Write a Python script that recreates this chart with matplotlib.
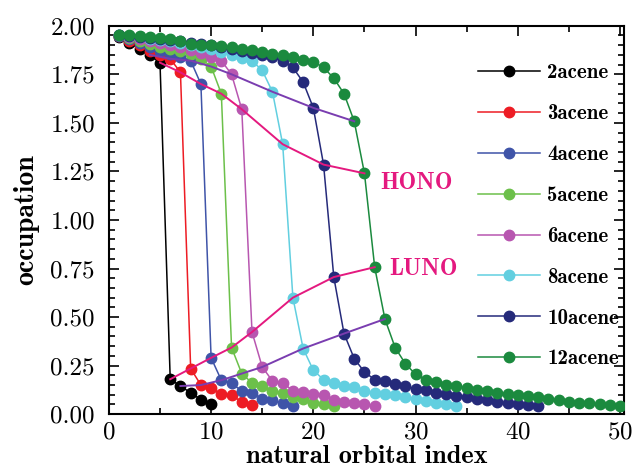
import matplotlib
matplotlib.use("Agg")
import matplotlib.pyplot as plt
from matplotlib.ticker import MultipleLocator, FormatStrFormatter

# number of rings for each acene
acenes = [2, 3, 4, 5, 6, 8, 10, 12]
labels = ["2acene", "3acene", "4acene", "5acene", "6acene", "8acene", "10acene", "12acene"]
colors = ["#000000", "#ed1c24", "#3f54a8", "#6cc04a", "#b856b0", "#62cfe0", "#252a7a", "#1b8a3e"]

# natural orbital occupations, index 1 .. 4n+2
occ_2 = [1.94, 1.91, 1.88, 1.85, 1.81, 0.18, 0.145, 0.11, 0.075, 0.05]
occ_3 = [1.945, 1.92, 1.90, 1.87, 1.85, 1.83, 1.76, 0.235, 0.15, 0.135, 0.103, 0.098,
         0.063, 0.046]
occ_4 = [1.945, 1.93, 1.91, 1.89, 1.87, 1.855, 1.84, 1.82, 1.70, 0.29, 0.175, 0.158,
         0.12, 0.11, 0.08, 0.072, 0.055, 0.043]
occ_5 = [1.95, 1.935, 1.92, 1.905, 1.89, 1.88, 1.87, 1.855, 1.83, 1.79, 1.65, 0.343,
         0.209, 0.161, 0.146, 0.12, 0.11, 0.089, 0.08, 0.058, 0.05, 0.043]
occ_6 = [1.95, 1.94, 1.93, 1.92, 1.91, 1.90, 1.89, 1.875, 1.86, 1.84, 1.82, 1.75,
         1.57, 0.423, 0.243, 0.171, 0.163, 0.12, 0.115, 0.106, 0.098, 0.072, 0.063,
         0.058, 0.05, 0.043]
occ_8 = [1.95, 1.945, 1.94, 1.93, 1.925, 1.92, 1.91, 1.90, 1.89, 1.88, 1.865, 1.85,
         1.835, 1.82, 1.77, 1.66, 1.39, 0.60, 0.338, 0.226, 0.178, 0.158, 0.146, 0.14,
         0.12, 0.11, 0.105, 0.098, 0.09, 0.08, 0.07, 0.06, 0.05, 0.043]
occ_10 = [1.95, 1.945, 1.94, 1.935, 1.93, 1.925, 1.92, 1.91, 1.905, 1.90, 1.89, 1.88,
          1.87, 1.86, 1.85, 1.84, 1.82, 1.785, 1.71, 1.577, 1.285, 0.706, 0.415, 0.286,
          0.217, 0.178, 0.17, 0.154, 0.144, 0.132, 0.123, 0.11, 0.106, 0.093, 0.089,
          0.08, 0.072, 0.063, 0.055, 0.051, 0.046, 0.041]
occ_12 = [1.95, 1.95, 1.945, 1.94, 1.937, 1.93, 1.92, 1.905, 1.90, 1.90, 1.895, 1.89,
          1.88, 1.875, 1.863, 1.855, 1.85, 1.84, 1.825, 1.815, 1.785, 1.73, 1.65, 1.508,
          1.24, 0.757, 0.49, 0.343, 0.26, 0.205, 0.178, 0.166, 0.149, 0.144, 0.135,
          0.125, 0.12, 0.11, 0.105, 0.10, 0.095, 0.09, 0.08, 0.072, 0.063, 0.058, 0.055,
          0.05, 0.046, 0.041]
occupations = [occ_2, occ_3, occ_4, occ_5, occ_6, occ_8, occ_10, occ_12]

HONO_COLOR = "#e4197f"
NEAR_COLOR = "#7a3db0"

plt.rcParams["axes.unicode_minus"] = False
plt.rcParams["axes.formatter.use_mathtext"] = True

fig = plt.figure(figsize=(6.33, 4.68), dpi=100)
ax = fig.add_axes([0.172, 0.115, 0.814, 0.830])

for n, occ, lab, col in zip(acenes, occupations, labels, colors):
    idx = list(range(1, len(occ) + 1))
    ax.plot(idx, occ, "-o", color=col, lw=1.1, ms=7.5, mec=col, label=lab, zorder=3)

# lines through HONO-1, HONO, LUNO, LUNO+1 of every acene (orbital 2n, 2n+1, 2n+2, 2n+3)
for shift, col in [(0, NEAR_COLOR), (1, HONO_COLOR), (2, HONO_COLOR), (3, NEAR_COLOR)]:
    xs = [2 * n + shift for n in acenes]
    ys = [occ[2 * n + shift - 1] for n, occ in zip(acenes, occupations)]
    ax.plot(xs, ys, "-", color=col, lw=1.4, zorder=4)

ax.text(26.5, 1.19, "HONO", color=HONO_COLOR, fontsize=17, family="cmb10", va="center")
ax.text(27.4, 0.75, "LUNO", color=HONO_COLOR, fontsize=17, family="cmb10", va="center")

ax.set_xlim(0, 50.4)
ax.set_ylim(0, 2.0)
ax.xaxis.set_major_locator(MultipleLocator(10))
ax.xaxis.set_minor_locator(MultipleLocator(5))
ax.yaxis.set_major_locator(MultipleLocator(0.25))
ax.yaxis.set_minor_locator(MultipleLocator(0.05))
ax.yaxis.set_major_formatter(FormatStrFormatter("%.2f"))
ax.tick_params(which="both", direction="in", top=True, right=True, width=1.2)
ax.tick_params(which="major", length=7, labelsize=18)
ax.tick_params(axis="y", which="major", pad=10)
ax.tick_params(axis="x", which="major", pad=5)
ax.tick_params(which="minor", length=4)
for t in ax.get_xticklabels() + ax.get_yticklabels():
    t.set_family("cmr10")
for s in ax.spines.values():
    s.set_linewidth(1.5)

ax.set_xlabel("natural orbital index", fontsize=19, family="cmb10", labelpad=1)
ax.set_ylabel("occupation", fontsize=20, family="cmb10", labelpad=8)

leg = ax.legend(loc="upper left", bbox_to_anchor=(0.697, 0.93), frameon=False,
                handlelength=2.95, labelspacing=1.05, handletextpad=0.35,
                borderpad=0, prop={"family": "cmb10", "size": 15})

fig.savefig("out.png", dpi=100)
